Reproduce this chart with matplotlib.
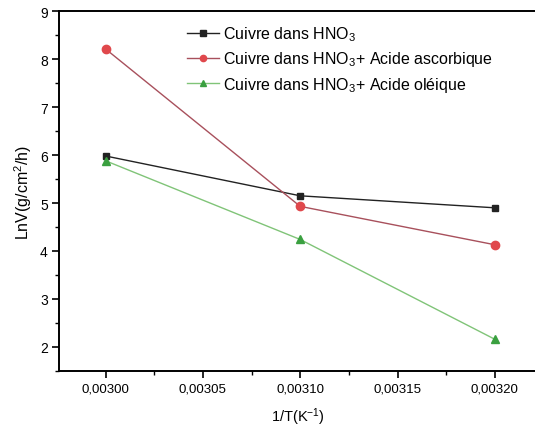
import matplotlib
matplotlib.use("Agg")
import matplotlib.pyplot as plt
from matplotlib.ticker import MultipleLocator, FuncFormatter

plt.rcParams["font.family"] = ["Liberation Sans", "DejaVu Sans"]
plt.rcParams["mathtext.default"] = "regular"

inv_t = [0.00300, 0.00310, 0.00320]
ln_v_hno3 = [5.98, 5.15, 4.90]
ln_v_ascorbique = [8.21, 4.93, 4.13]
ln_v_oleique = [5.88, 4.24, 2.16]

labels = ["Cuivre dans HNO$_3$",
          "Cuivre dans HNO$_3$+ Acide ascorbique",
          "Cuivre dans HNO$_3$+ Acide oléique"]

fig = plt.figure(figsize=(5.35, 4.31), dpi=100)
ax = fig.add_axes([0.110, 0.137, 0.895, 0.835])

ax.plot(inv_t, ln_v_hno3, color="#222222", lw=1.0, marker="s", ms=5,
        mfc="#222222", mec="#222222", label=labels[0])
ax.plot(inv_t, ln_v_ascorbique, color="#a8505c", lw=1.0, marker="o", ms=6,
        mfc="#e0484c", mec="#e0484c", label=labels[1])
ax.plot(inv_t, ln_v_oleique, color="#80c478", lw=1.0, marker="^", ms=6,
        mfc="#3aa040", mec="#3aa040", label=labels[2])

ax.set_xlim(0.002976, 0.003222)
ax.set_ylim(1.5, 9)
ax.xaxis.set_major_locator(MultipleLocator(0.00005))
ax.xaxis.set_minor_locator(MultipleLocator(0.000025))
ax.yaxis.set_major_locator(MultipleLocator(1))
ax.yaxis.set_minor_locator(MultipleLocator(0.5))
ax.xaxis.set_major_formatter(FuncFormatter(lambda v, p: f"{v:.5f}".replace(".", ",")))

ax.tick_params(which="major", direction="out", length=5, width=1.2, pad=3)
ax.tick_params(which="minor", direction="out", length=3, width=1.0)
ax.tick_params(axis="x", labelsize=9.5)
ax.tick_params(axis="y", labelsize=10)
for side in ["left", "bottom", "top"]:
    ax.spines[side].set_linewidth(1.4)
ax.spines["right"].set_visible(False)

ax.set_xlabel("1/T(K$^{-1}$)", fontsize=10.5, labelpad=8)
ax.set_ylabel("LnV(g/cm$^2$/h)", fontsize=11.5, labelpad=4)

ax.legend(loc="upper left", bbox_to_anchor=(0.237, 1.003), frameon=False,
          fontsize=11.5, handlelength=2.0, handletextpad=0.3, labelspacing=0.4,
          markerscale=0.75)

fig.savefig("out.png", dpi=100)
